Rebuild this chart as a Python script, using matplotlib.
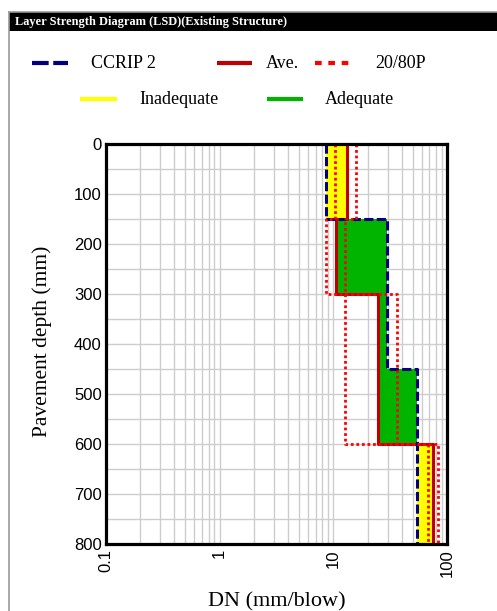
import matplotlib
matplotlib.use("Agg")
import matplotlib.pyplot as plt
from matplotlib.lines import Line2D
from matplotlib.patches import Rectangle
from matplotlib.ticker import MultipleLocator, LogLocator, FixedFormatter, FixedLocator

W, H = 497, 611

# layer boundaries (mm) and DN values (mm/blow)
ccrip_depth = [0, 150, 450, 800]
ccrip_dn = [8.6, 29.6, 54.7]
ave_depth = [0, 150, 300, 600, 800]
ave_dn = [13.1, 10.5, 24.5, 75.6]
p20_dn = [10.3, 8.7, 12.6, 67.9]
p80_dn = [15.8, 12.6, 36.1, 82.7]

x_ticks = [0.1, 1, 10, 100]
x_labels = ["0.1", "1", "10", "100"]
y_ticks = [0, 100, 200, 300, 400, 500, 600, 700, 800]

legend_labels = ["CCRIP 2", "Ave.", "20/80P", "Inadequate", "Adequate"]

NAVY = "#000080"
DARKRED = "#C00000"
RED = "#FF0000"
YELLOW = "#FFFF00"
GREEN = "#00B400"


def steps(depths, vals):
    xs, ys = [], []
    for i, v in enumerate(vals):
        xs += [v, v]
        ys += [depths[i], depths[i + 1]]
    return xs, ys


def value_at(depths, vals, d):
    for i in range(len(vals)):
        if depths[i] <= d < depths[i + 1]:
            return vals[i]
    return vals[-1]


def fx(px):
    return px / W


def fy(py):
    return 1 - py / H


fig = plt.figure(figsize=(W / 100, H / 100), dpi=100)
fig.patch.set_facecolor("white")

# panel frame + title bar
fig.add_artist(Line2D([fx(8.5), fx(8.5)], [fy(11.5), fy(611)], color="#999999", lw=1.2))
fig.add_artist(Line2D([fx(8.5), fx(497)], [fy(11.5), fy(11.5)], color="#999999", lw=1.2))
fig.add_artist(Rectangle((fx(9), fy(30.5)), fx(497) - fx(9), fy(12) - fy(30.5),
                         transform=fig.transFigure, color="black", lw=0))
fig.text(fx(15), fy(21.5), "Layer Strength Diagram (LSD)(Existing Structure)",
         color="white", fontsize=8.9, fontweight="bold", family="Liberation Serif",
         va="center", ha="left")

# legend drawn by hand (two rows, uneven spacing)
leg_rows = [
    (63, [(32, 68, 91, dict(color=NAVY, ls=(0, (4, 1.1)))),
          (217, 252, 266, dict(color=DARKRED, ls="-")),
          (315, 352, 375, dict(color=RED, ls=(0, (1.6, 1.6))))]),
    (99, [(80, 117, 139, dict(color=YELLOW, ls="-")),
          (267, 303, 325, dict(color=GREEN, ls="-"))]),
]
k = 0
for y, items in leg_rows:
    for x0, x1, xt, style in items:
        fig.add_artist(Line2D([fx(x0), fx(x1)], [fy(y), fy(y)], lw=3,
                              solid_capstyle="butt", dash_capstyle="butt", **style))
        fig.text(fx(xt), fy(y), legend_labels[k], fontsize=13,
                 family="Liberation Serif", va="center", ha="left")
        k += 1

left, right, top, bottom = 106, 447, 143.7, 543.5
ax = fig.add_axes([fx(left), fy(bottom), fx(right) - fx(left), fy(top) - fy(bottom)])

ax.set_xscale("log")
ax.set_xlim(0.1, 100)
ax.set_ylim(800, 0)

# fills between CCRIP and average
bounds = sorted(set(ccrip_depth) | set(ave_depth))
for d0, d1 in zip(bounds[:-1], bounds[1:]):
    mid = (d0 + d1) / 2
    c = value_at(ccrip_depth, ccrip_dn, mid)
    a = value_at(ave_depth, ave_dn, mid)
    ax.fill_betweenx([d0, d1], c, a, color=YELLOW if a > c else GREEN, lw=0, zorder=2)

xs, ys = steps(ave_depth, ave_dn)
ax.plot(xs, ys, color=DARKRED, lw=2.2, zorder=3)
xs, ys = steps(ccrip_depth, ccrip_dn)
ax.plot(xs, ys, color=NAVY, lw=2.2, ls=(0, (3, 1.1)), dash_capstyle="butt", zorder=4)
for vals in (p20_dn, p80_dn):
    xs, ys = steps(ave_depth, vals)
    ax.plot(xs, ys, color=RED, lw=2, ls=(0, (1, 1)), dash_capstyle="butt", zorder=5)

# grid
ax.xaxis.set_major_locator(FixedLocator(x_ticks))
ax.xaxis.set_major_formatter(FixedFormatter(x_labels))
ax.xaxis.set_minor_locator(LogLocator(base=10, subs=range(2, 10)))
ax.yaxis.set_major_locator(FixedLocator(y_ticks))
ax.yaxis.set_minor_locator(MultipleLocator(50))
ax.grid(True, which="both", color="#CDCDCD", lw=1.0, zorder=1)
ax.set_axisbelow(True)

ax.tick_params(which="both", length=0)
ax.tick_params(axis="y", labelsize=12, pad=3)
ax.tick_params(axis="x", labelsize=12, pad=4, labelrotation=90)
for lab in ax.get_xticklabels() + ax.get_yticklabels():
    lab.set_family("Liberation Sans")

for s in ax.spines.values():
    s.set_linewidth(2.3)
    s.set_color("black")
    s.set_zorder(6)

fig.text(fx(276.5), fy(602), "DN (mm/blow)", fontsize=16, family="Liberation Serif",
         ha="center", va="center")
fig.text(fx(42), fy(341), "Pavement depth (mm)", fontsize=15.5, family="Liberation Serif",
         ha="center", va="center", rotation=90)

fig.savefig("out.png", dpi=100)
